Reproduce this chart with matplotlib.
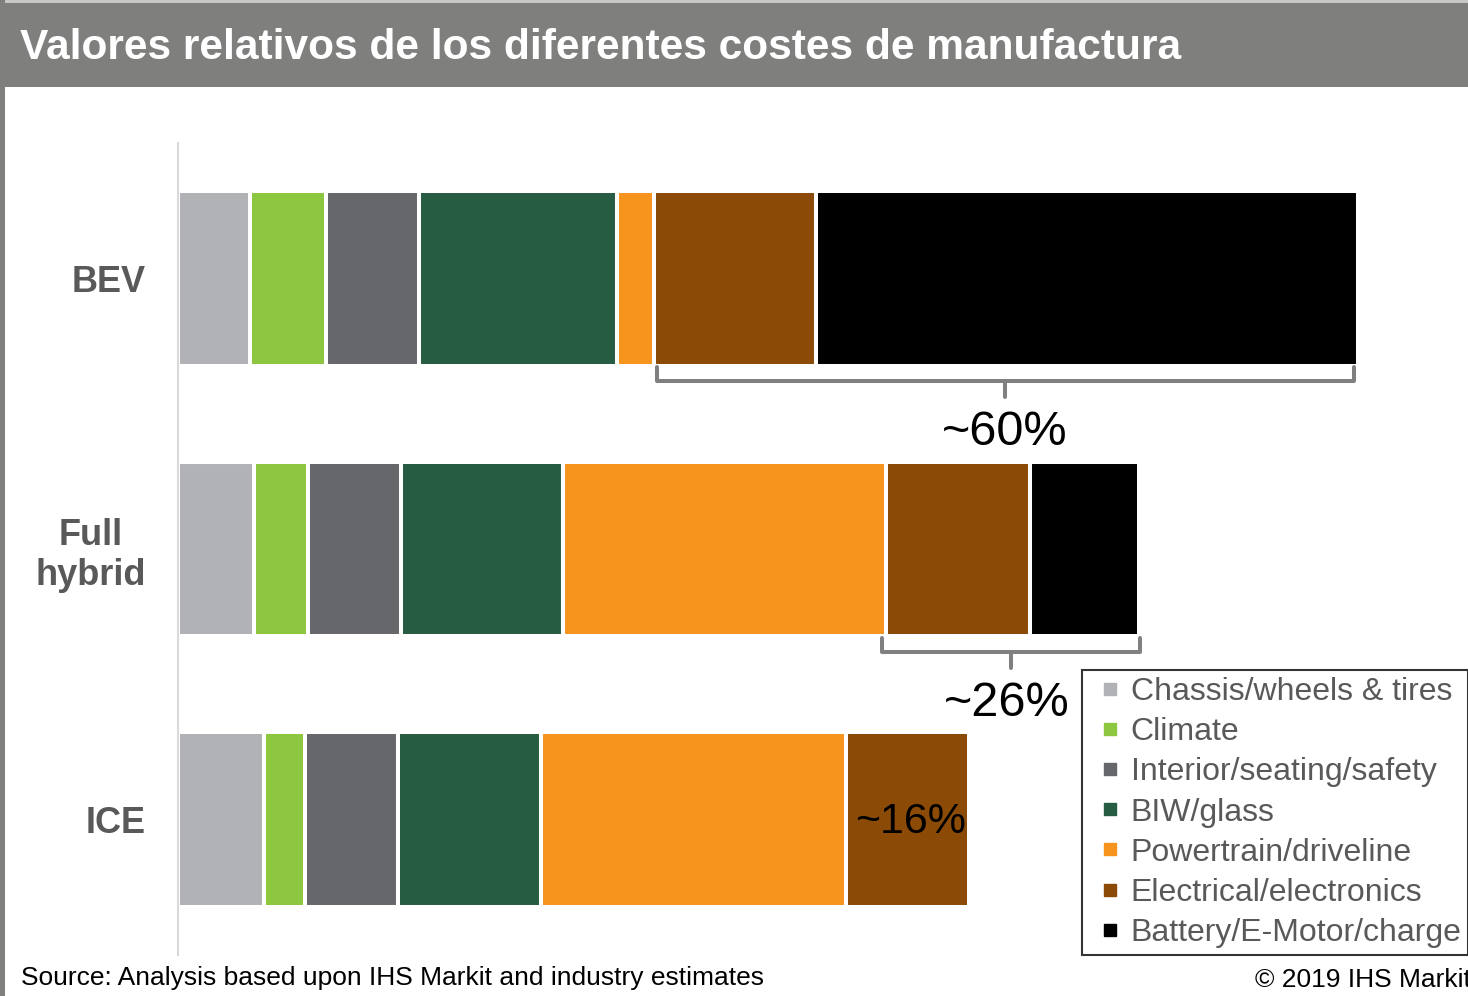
import matplotlib
matplotlib.use("Agg")
import matplotlib.pyplot as plt
from matplotlib.patches import Rectangle
from matplotlib.lines import Line2D

plt.rcParams['font.family'] = ['Liberation Sans', 'DejaVu Sans']

W, H = 1468, 996

# --- data -------------------------------------------------------------
categories = ["BEV", "Full\nhybrid", "ICE"]
components = ["Chassis/wheels & tires", "Climate", "Interior/seating/safety",
              "BIW/glass", "Powertrain/driveline", "Electrical/electronics",
              "Battery/E-Motor/charge"]
colors = ["#b1b2b5", "#8dc63f", "#65676b", "#265c42", "#f7941e", "#8b4a06", "#000000"]

# relative cost per component (ICE total = 100)
bev = [9.1, 9.6, 11.8, 25.1, 4.6, 20.5, 68.7]
full_hybrid = [9.6, 6.8, 11.8, 20.5, 40.9, 18.2, 13.8]
ice = [10.9, 5.2, 11.8, 18.1, 38.5, 15.6, 0.0]
values = [bev, full_hybrid, ice]

# share labels: (category index, first component, last component, text)
shares = [(0, 5, 6, "~60%"), (1, 5, 6, "~26%"), (2, 5, 5, "~16%")]

title = "Valores relativos de los diferentes costes de manufactura"
source = "Source: Analysis based upon IHS Markit and industry estimates"
copyright_txt = "\u00a9 2019 IHS Markit"

# --- figure -----------------------------------------------------------
fig = plt.figure(figsize=(W / 100, H / 100), dpi=100)


def fx(px):
    return px / W


def fy(py):
    return 1 - py / H


# header band and left frame
fig.patches.append(Rectangle((0, fy(87)), 1, fy(3) - fy(87), transform=fig.transFigure,
                             facecolor="#7f807e", edgecolor="none", zorder=0))
fig.patches.append(Rectangle((0, fy(3)), 1, fy(0) - fy(3), transform=fig.transFigure,
                             facecolor="#c8c8c8", edgecolor="none", zorder=0))
fig.patches.append(Rectangle((0, 0), fx(5), 1, transform=fig.transFigure,
                             facecolor="#7f807e", edgecolor="none", zorder=0))
fig.text(fx(20), fy(48), title, color="white", fontsize=30.6, fontweight="bold",
         ha="left", va="center")

ax = fig.add_axes([fx(178), fy(955), fx(1468 - 178), fy(143) - fy(955)])
ax.set_facecolor("none")

bar_h = 0.645
for i, row in enumerate(values):
    left = 0.0
    for j, v in enumerate(row):
        if v > 0:
            ax.barh(i, v, left=left, height=bar_h, color=colors[j],
                    edgecolor="white", linewidth=2.9, zorder=2)
        left += v

ax.set_xlim(0, 1290 / 7.9)
ax.set_ylim(2.5, -0.5)
for s in ["top", "right", "bottom"]:
    ax.spines[s].set_visible(False)
ax.spines["left"].set_color("#d9d9d9")
ax.spines["left"].set_linewidth(1.5)
ax.set_xticks([])
ax.set_yticks(range(len(categories)))
ax.set_yticklabels(categories, fontsize=26, fontweight="bold", color="#595959",
                   multialignment="center")
ax.tick_params(axis="y", length=0, pad=23)

# braces and share labels
bc = "#808080"
for ci, a, b, txt in shares:
    row = values[ci]
    x0 = sum(row[:a])
    x1 = sum(row[:b + 1])
    if b == a:
        ax.text((x0 + x1) / 2 + 0.4, ci + 0.01, txt, fontsize=31, color="black",
                ha="center", va="center", zorder=3)
        continue
    if ci == 0:
        xs, xe = x0 + 0.4, x1 - 0.6
    else:
        xs, xe = x0 - 0.5, x1 + 0.2
    xm = (xs + xe) / 2
    yt, yh, yb = ci + 0.327, ci + 0.38, ci + 0.44
    ax.plot([xs, xs, xe, xe], [yt, yh, yh, yt], color=bc, lw=2.9,
            solid_joinstyle="round", solid_capstyle="round", zorder=3, clip_on=False)
    ax.plot([xm, xm], [yh, yb], color=bc, lw=2.9, solid_capstyle="round",
            zorder=3, clip_on=False)
    ax.text(xm - (0.6 if ci == 1 else 0.0), ci + 0.57, txt, fontsize=35,
            color="black", ha="center", va="center", zorder=3)

# legend
handles = [Line2D([], [], linestyle="none", marker="s", markersize=8,
                  markerfacecolor=c, markeredgecolor=c) for c in colors]
leg = fig.legend(handles, components, loc="upper left",
                 bbox_to_anchor=(fx(1082), fy(670)), fontsize=23,
                 frameon=True, fancybox=False, edgecolor="black",
                 handlelength=1.3, handletextpad=0.0, labelspacing=0.318,
                 borderpad=0.22, borderaxespad=0)
leg.get_frame().set_linewidth(1.5)
for t in leg.get_texts():
    t.set_color("#595959")

fig.text(fx(21), fy(978), source, fontsize=19, color="black", ha="left", va="center")
fig.text(fx(1255), fy(980), copyright_txt, fontsize=19, color="black",
         ha="left", va="center")

fig.savefig("out.png", dpi=100, facecolor="white")
